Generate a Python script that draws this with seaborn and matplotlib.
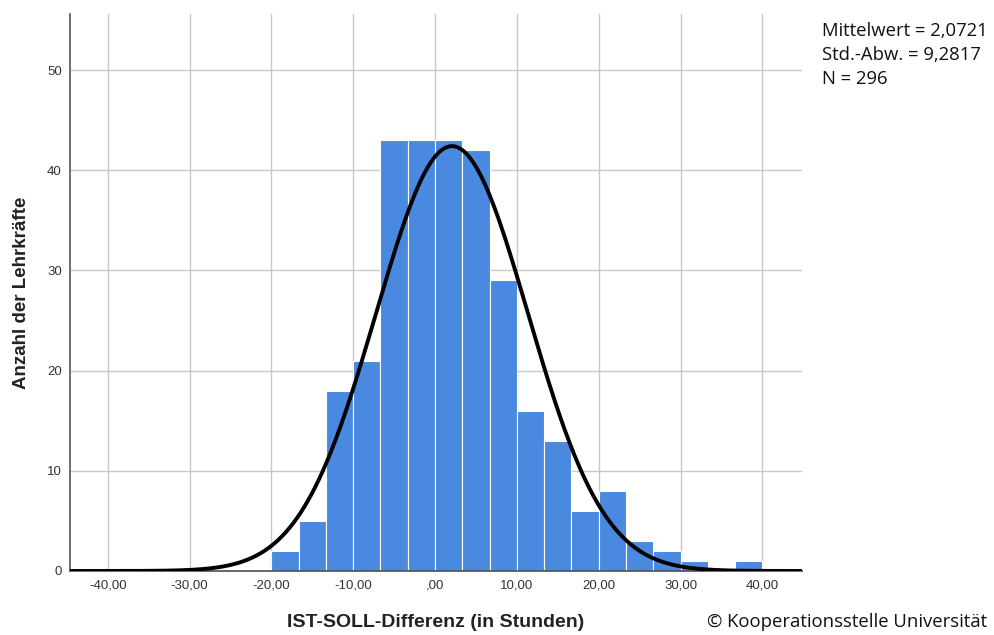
import numpy as np
import pandas as pd
import matplotlib
matplotlib.use("Agg")
import matplotlib.pyplot as plt
import seaborn as sns

# Data
bin_start = -20.0
bin_width = 60.0 / 18
counts = [2, 5, 18, 21, 43, 43, 43, 42, 29, 16, 13, 6, 8, 3, 2, 1, 0, 1]
mean_val = 2.0721
sd_val = 9.2817
n_val = 296
x_ticks = [-40, -30, -20, -10, 0, 10, 20, 30, 40]
x_tick_labels = ["-40,00", "-30,00", "-20,00", "-10,00", ",00", "10,00", "20,00", "30,00", "40,00"]
y_ticks = [0, 10, 20, 30, 40, 50]

edges = [float(bin_start + bin_width * i) for i in range(len(counts) + 1)]
centers = [(edges[i] + edges[i + 1]) / 2 for i in range(len(counts))]
df = pd.DataFrame({"diff": centers, "n": counts})

sns.set_theme(style="white")
plt.rcParams['font.family'] = ['Liberation Sans', 'DejaVu Sans']

fig = plt.figure(figsize=(9.95, 6.35), dpi=100)
ax = fig.add_axes([0.0704, 0.1008, 0.7353, 0.8772])

sns.histplot(data=df, x="diff", weights="n", bins=edges, ax=ax,
             color="#4a89e0", alpha=1.0, edgecolor="white", linewidth=0.8, zorder=2)

xs = np.linspace(-44.6, 44.8, 600)
pdf = n_val * bin_width / (sd_val * np.sqrt(2 * np.pi)) * np.exp(-0.5 * ((xs - mean_val) / sd_val) ** 2)
sns.lineplot(x=xs, y=pdf, ax=ax, color="black", linewidth=2.8, zorder=3)

ax.set_xlim(-44.6, 44.8)
ax.set_ylim(0, 55.6)
ax.set_xticks(x_ticks)
ax.set_xticklabels(x_tick_labels)
ax.set_yticks(y_ticks)
ax.grid(True, color="#c8c8c8", linewidth=1.0, zorder=0)
ax.set_axisbelow(True)
for s in ["top", "right"]:
    ax.spines[s].set_visible(False)
ax.spines["left"].set_color("#555555")
ax.spines["left"].set_linewidth(1.2)
ax.spines["bottom"].set_color("#555555")
ax.tick_params(axis="both", length=0, labelsize=9.5, labelcolor="#333333", pad=6)

ax.set_xlabel("IST-SOLL-Differenz (in Stunden)", fontsize=14, fontweight="bold",
              color="#222222", labelpad=16)
ax.set_ylabel("Anzahl der Lehrkräfte", fontsize=13.5, fontweight="bold",
              color="#222222", labelpad=12)

stat_font = ["Open Sans", "DejaVu Sans"]
fig.text(0.826, 0.951, "Mittelwert = 2,0721", fontsize=13.3, family=stat_font,
         color="#111111", va="center")
fig.text(0.826, 0.913, "Std.-Abw. = 9,2817", fontsize=13.3, family=stat_font,
         color="#111111", va="center")
fig.text(0.826, 0.875, "N = 296", fontsize=13.3, family=stat_font,
         color="#111111", va="center")
fig.text(0.711, 0.0205, "© Kooperationsstelle Universität", fontsize=13.3,
         family=stat_font, color="#111111", va="center")

fig.savefig("out.png", dpi=100)
